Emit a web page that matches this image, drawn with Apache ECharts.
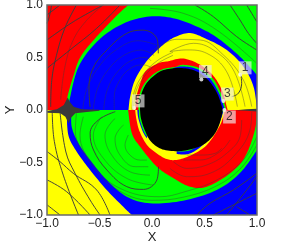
<!DOCTYPE html>
<html><head><meta charset="utf-8">
<style>html,body{margin:0;padding:0;background:#fff}#c{width:283px;height:242px}</style>
<script src="https://cdn.jsdelivr.net/npm/echarts@6/dist/echarts.min.js"></script>
</head><body><div id="c"></div>
<script>
// --- tick labels
const tickValues = [-1, -0.5, 0, 0.5, 1];
// --- boundaries of the coloured basins (data coordinates)
const curveRedCorner = [[-0.226,1],[-0.384,0.85],[-0.657,0.543],[-0.752,0.314],[-0.812,0.095],[-0.82,0]];
const curveBlueTop = [[-0.79,0],[-0.785,0.095],[-0.70,0.41],[-0.525,0.65],[-0.30,0.81],[-0.05,0.888],[0.2,0.875],[0.46,0.78],[0.64,0.675],[0.838,0.508],[1,0.333]];
const curveYellowTop = [[-0.224,0],[-0.208,0.127],[-0.162,0.286],[-0.067,0.444],[0.029,0.55],[0.124,0.635],[0.22,0.695],[0.362,0.733],[0.522,0.675],[0.713,0.571],[0.871,0.413],[0.967,0.222],[1,0]];
const curveRedInnerTop = [[-0.16,0],[-0.15,0.12],[-0.11,0.26],[-0.06,0.37],[0.06,0.445],[0.155,0.465],[0.3,0.49],[0.46,0.43],[0.585,0.325],[0.67,0.18],[0.712,0.03],[0.72,0]];
const curveGreenInnerTop = [[-0.13,0],[-0.125,0.12],[-0.08,0.24],[0,0.33],[0.1,0.388],[0.22,0.41],[0.3,0.43],[0.45,0.4],[0.575,0.305],[0.655,0.165],[0.7,0.03],[0.705,0]];
const curveBlueInnerTop = [[0.2,0.4],[0.3,0.415],[0.44,0.385],[0.56,0.29],[0.64,0.155],[0.685,0.03],[0.69,0]];
const curveYellowCorner = [[-0.812,0],[-0.797,-0.238],[-0.717,-0.397],[-0.59,-0.571],[-0.431,-0.762],[-0.276,-0.92],[-0.193,-1]];
const curveGreenBottom = [[-0.765,0],[-0.765,-0.159],[-0.70,-0.317],[-0.59,-0.476],[-0.431,-0.667],[-0.24,-0.826],[-0.02,-0.888],[0.295,-0.864],[0.616,-0.762],[0.838,-0.6],[1,-0.381]];
const curveRedBottom = [[-0.228,0],[-0.192,-0.222],[-0.113,-0.35],[0.046,-0.54],[0.205,-0.651],[0.363,-0.73],[0.522,-0.73],[0.744,-0.603],[0.887,-0.444],[0.98,-0.19],[1,0]];
const curveYellowInnerBottom = [[-0.16,0],[-0.15,-0.08],[-0.12,-0.2],[-0.05,-0.33],[0.04,-0.41],[0.14,-0.467],[0.235,-0.475],[0.362,-0.435],[0.52,-0.335],[0.648,-0.145],[0.695,0]];
const curveBlueInnerBottom = [[0.235,-0.42],[0.36,-0.415],[0.5,-0.32],[0.62,-0.17],[0.685,0]];
const curveGreenInnerBottom = [[0.24,-0.395],[0.36,-0.385],[0.485,-0.305],[0.6,-0.16],[0.68,0]];
const curveBlueInnerLeft = [[-0.14,0],[-0.13,-0.08],[-0.09,-0.2],[-0.05,-0.27]];
const curveGreenInnerLeft = [[-0.125,0],[-0.12,-0.08],[-0.08,-0.2],[-0.05,-0.25]];
const curveHoleTop = [[-0.114,0],[-0.11,0.12],[-0.065,0.235],[0.01,0.32],[0.11,0.38],[0.27,0.4],[0.42,0.37],[0.54,0.28],[0.625,0.15],[0.675,0]];
const curveHoleBottom = [[0.675,0],[0.64,-0.14],[0.58,-0.25],[0.47,-0.34],[0.28,-0.39],[0.1,-0.375],[-0.01,-0.3],[-0.07,-0.19],[-0.105,-0.08],[-0.114,0]];
const saddleStar = [[-1,-0.01],[-0.905,0.006],[-0.84,0.047],[-0.803,0.12],[-0.784,0.079],[-0.746,0.031],[-0.667,0.006],[-0.5,0.002],[-0.5,-0.006],[-0.62,-0.018],[-0.73,-0.032],[-0.778,-0.08],[-0.794,-0.127],[-0.825,-0.064],[-0.873,-0.032],[-1,-0.026]];
const saddleRight = [[0.8,-0.003],[0.9,0.006],[1,0.012],[1,-0.014],[0.9,-0.008]];
const regionColors = {red:'#ff0000',green:'#00ff00',blue:'#0000ff',yellow:'#ffff00',black:'#000000',dark:'#3a3a3a'};
// each region: colour + parts; a part flagged true is a smooth boundary, false = straight corners
const regions = [
  ['green',[[[[-1,0],[-1,1],[1,1],[1,0]],false]]],
  ['red',[[[[-1,0],[-1,1]],false],[curveRedCorner,true]]],
  ['blue',[[curveBlueTop,true],[[[1,0]],false]]],
  ['yellow',[[curveYellowTop,true]]],
  ['red',[[curveRedInnerTop,true]]],
  ['green',[[curveGreenInnerTop,true]]],
  ['blue',[[curveBlueInnerTop,true],[[[0.2,0]],false]]],
  ['blue',[[[[-1,0],[-1,-1],[1,-1],[1,0]],false]]],
  ['yellow',[[[[-1,0]],false],[curveYellowCorner,true],[[[-1,-1]],false]]],
  ['green',[[curveGreenBottom,true],[[[1,0]],false]]],
  ['red',[[curveRedBottom,true]]],
  ['yellow',[[curveYellowInnerBottom,true]]],
  ['blue',[[curveBlueInnerBottom,true],[[[0.235,0]],false]]],
  ['green',[[curveGreenInnerBottom,true],[[[0.24,0]],false]]],
  ['blue',[[curveBlueInnerLeft,true],[[[0,0]],false]]],
  ['green',[[curveGreenInnerLeft,true],[[[0,0]],false]]],
  ['black',[[curveHoleTop,true],[curveHoleBottom,true]]],
  ['dark',[[saddleStar,false]]],
  ['dark',[[saddleRight,false]]]
];
// --- dark trajectory lines (data coordinates)
const thickLines = [
  [[-1,0.905],[-0.876,1]],
  [[-1,0.667],[-0.75,0.84],[-0.464,1]],
  [[-1,0.397],[-0.781,0.572],[-0.527,0.778],[-0.305,1]],
  [[-0.956,1],[-0.978,0.889],[-1,0.826]],
  [[-0.72,1],[-0.83,0.78],[-0.91,0.52],[-0.955,0.28],[-0.965,0.03]],
  [[0.41,1],[0.584,0.889],[0.806,0.699],[0.997,0.572]],
  [[0.743,1],[0.838,0.857],[0.918,0.73],[0.997,0.635]],
  [[0.902,1],[0.997,0.842]],
  [[-0.997,-0.397],[-0.876,-0.492],[-0.75,-0.603],[-0.527,-0.762],[-0.4,-1]],
  [[-0.997,-0.667],[-0.813,-0.778],[-0.59,-1]],
  [[-0.997,-0.905],[-0.876,-1]],
  [[-0.95,-0.016],[-0.93,-0.3],[-0.845,-0.62],[-0.7,-1]],
  [[-0.876,-0.016],[-0.82,-0.4],[-0.733,-0.603],[-0.59,-0.857],[-0.495,-1]],
  [[0.425,-1],[0.552,-0.889],[0.775,-0.762],[0.997,-0.603]],
  [[0.711,-1],[0.902,-0.762],[0.997,-0.635]],
  [[0.584,-1],[0.806,-0.889],[0.997,-0.794]],
  [[0.806,-0.92],[0.933,-1]],
  [[-0.35,-0.016],[-0.51,-0.095],[-0.589,-0.222],[-0.557,-0.381],[-0.43,-0.571],[-0.24,-0.73],[-0.08,-0.756],[0.046,-0.667],[0.062,-0.54]],
  [[-0.59,0.03],[-0.6,0.2],[-0.56,0.4],[-0.43,0.57],[-0.24,0.73],[-0.08,0.76],[0.05,0.67],[0.06,0.54]],
  [[0.759,0.127],[0.822,0.159],[0.854,0.254],[0.845,0.35]]
];
const thinLines = [
  [[-0.464,1],[-0.62,0.857],[-0.75,0.667],[-0.829,0.413],[-0.87,0.1]],
  [[-0.019,0.968],[0.3,0.92],[0.616,0.762],[0.997,0.445]],
  [[-0.654,-0.064],[-0.686,-0.238],[-0.559,-0.524],[-0.305,-0.746],[0.076,-0.826],[0.3,-0.782],[0.616,-0.667],[0.87,-0.476],[0.997,-0.254]],
  [[-0.72,-0.03],[-0.73,-0.2],[-0.6,-0.48],[-0.36,-0.74],[0,-0.86],[0.3,-0.83],[0.62,-0.72],[0.85,-0.55],[1,-0.33]],
  [[-0.479,-0.064],[-0.559,-0.238],[-0.463,-0.46],[-0.241,-0.651],[0.013,-0.715]],
  [[-0.352,-0.08],[-0.448,-0.238],[-0.384,-0.429],[-0.21,-0.588],[-0.019,-0.62]],
  [[-0.273,-0.143],[-0.352,-0.27],[-0.305,-0.429],[-0.162,-0.54],[-0.035,-0.54]],
  [[-0.225,-0.238],[-0.257,-0.334],[-0.21,-0.429],[-0.114,-0.477],[-0.05,-0.477]],
  [[-0.66,0],[-0.62,0.2],[-0.5,0.42],[-0.33,0.58],[-0.13,0.66],[0.04,0.62]],
  [[-0.56,0],[-0.52,0.2],[-0.42,0.38],[-0.27,0.52],[-0.1,0.57],[0.02,0.52]],
  [[-0.46,0],[-0.43,0.18],[-0.34,0.35],[-0.2,0.47],[-0.06,0.5],[-0.01,0.47]],
  [[-0.36,0],[-0.36,0.12],[-0.31,0.28],[-0.2,0.4],[-0.08,0.43],[0,0.4]],
  [[-0.019,0.54],[0.235,0.673],[0.457,0.667],[0.68,0.524],[0.87,0.286],[0.95,0.032]],
  [[0.17,0.556],[0.394,0.635],[0.584,0.572],[0.775,0.381],[0.886,0.032]],
  [[0.17,0.556],[0.33,0.572],[0.521,0.54],[0.711,0.365],[0.813,0.032]],
  [[-0.19,0],[-0.17,0.17],[-0.09,0.33],[0.05,0.47],[0.2,0.55]],
  [[-0.175,0],[-0.155,0.17],[-0.08,0.31],[0.05,0.44],[0.2,0.52]],
  [[0.95,-0.016],[0.933,-0.19],[0.775,-0.444],[0.552,-0.603],[0.33,-0.635],[0.171,-0.556]],
  [[0.854,-0.095],[0.838,-0.254],[0.711,-0.413],[0.521,-0.524],[0.33,-0.556],[0.203,-0.492]],
  [[0.743,-0.286],[0.648,-0.397],[0.457,-0.476],[0.3,-0.476]],
  [[0.664,-0.365],[0.6,-0.413],[0.457,-0.429],[0.33,-0.429]]
];
// --- numbered points
const pointValues = [[0.84,0.335],[0.69,0],[0.68,0.085],[0.47,0.29],[-0.17,0.02]];
const pointNames = ['1','2','3','4','5'];
const labelOffsets = [[5,-7],[5,7],[4,-7],[4,-8],[4,-7]];

function smoothChain(pts){
  const out=[];
  for(let i=0;i<pts.length-1;i++){
    const p0=pts[Math.max(i-1,0)],p1=pts[i],p2=pts[i+1],p3=pts[Math.min(i+2,pts.length-1)];
    for(let k=0;k<10;k++){
      const t=k/10,t2=t*t,t3=t2*t;
      out.push([0,1].map(a=>0.5*(2*p1[a]+(p2[a]-p0[a])*t+(2*p0[a]-5*p1[a]+4*p2[a]-p3[a])*t2+(3*p1[a]-p0[a]-3*p2[a]+p3[a])*t3)));
    }
  }
  out.push(pts[pts.length-1]);
  return out;
}
const regionOutlines = regions.map(r=>r[1].flatMap(p=>p[1]?smoothChain(p[0]):p[0]));

const lineSeries = (list,width,opacity)=>list.map(data=>({
  type:'line',data,smooth:0.4,showSymbol:false,silent:true,z:3,animation:false,
  lineStyle:{color:'#3c3c3c',width,opacity}
}));

const chart = echarts.init(document.getElementById('c'),null,{renderer:'canvas'});
const fmt = v=>v.toFixed(1).replace('-','\u2212');
const axisBase = {type:'value',min:-1,max:1,interval:0.5,
  splitLine:{show:false},axisTick:{show:false},axisLine:{show:false},
  nameLocation:'middle',nameMoveOverlap:false,nameTextStyle:{fontFamily:'Liberation Sans',fontSize:13,color:'#222'},
  axisLabel:{formatter:fmt,fontFamily:'Liberation Sans',fontSize:12,color:'#222',hideOverlap:false,showMinLabel:true,showMaxLabel:true}};
chart.setOption({
  animation:false,
  backgroundColor:'#fff',
  grid:{left:47,top:5,width:210,height:210,containLabel:false,outerBoundsMode:'none'},
  xAxis:Object.assign({},axisBase,{name:'X',nameGap:16,axisLabel:Object.assign({},axisBase.axisLabel,{margin:3})}),
  yAxis:Object.assign({},axisBase,{name:'Y',nameGap:30,nameRotate:90,axisLabel:Object.assign({},axisBase.axisLabel,{margin:4})}),
  graphic:[{type:'rect',z:100,silent:true,shape:{x:47,y:5,width:210,height:210},style:{fill:null,stroke:'#6a6a6a',lineWidth:1.5}}],
  series:[
    {type:'custom',clip:true,z:1,silent:true,data:regions.map((r,i)=>[i]),encode:{x:[],y:[]},
     renderItem:(params,api)=>{
       const i=api.value(0);
       return {type:'polygon',shape:{points:regionOutlines[i].map(p=>api.coord(p))},
               style:{fill:regionColors[regions[i][0]],stroke:null}};
     }},
    ...lineSeries(thickLines,1,0.95),
    ...lineSeries(thinLines,0.5,0.8),
    {type:'scatter',z:5,silent:true,symbolSize:4,itemStyle:{color:'#fff'},
     data:pointValues.map((v,i)=>({value:v,name:pointNames[i],
       label:{show:true,formatter:pointNames[i],position:'inside',offset:labelOffsets[i],fontFamily:'Liberation Sans',fontSize:12,color:'#111',
              backgroundColor:'rgba(238,238,238,0.82)',padding:[1,3,0,3]}}))}
  ]
});
</script></body></html>
